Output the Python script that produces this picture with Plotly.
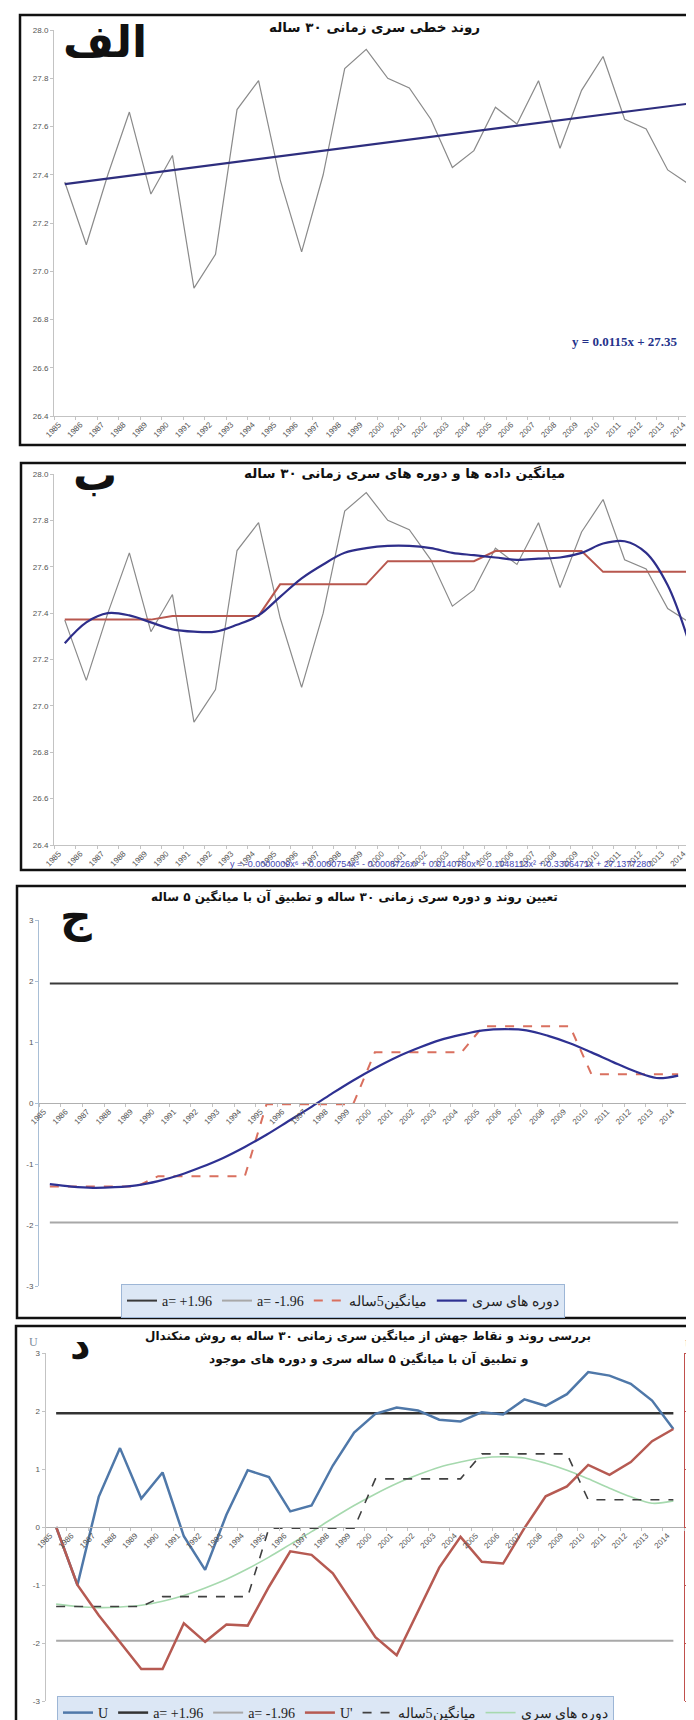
import plotly.graph_objects as go

W, H = 694, 1720

# ---------------- data ----------------
years = list(range(1985, 2015))
year_labels = [str(y) for y in years]

# annual mean temperature (panels الف and ب)
temp_mean = [27.37, 27.11, 27.40, 27.66, 27.32, 27.48, 26.93, 27.07, 27.67, 27.79,
             27.38, 27.08, 27.40, 27.84, 27.92, 27.80, 27.76, 27.63, 27.43, 27.50,
             27.68, 27.61, 27.79, 27.51, 27.75, 27.89, 27.63, 27.59, 27.42, 27.36]

# linear trend y = 0.0115x + 27.35
trend_slope = 0.0115
trend_intercept = 27.35

# 6th-order polynomial trend (panel ب)
poly_trend = [27.27, 27.36, 27.40, 27.39, 27.36, 27.33, 27.32, 27.32, 27.35, 27.39,
              27.47, 27.55, 27.61, 27.66, 27.68, 27.69, 27.69, 27.68, 27.66, 27.65,
              27.64, 27.63, 27.635, 27.64, 27.66, 27.70, 27.71, 27.66, 27.52, 27.27]

# five-year means of temperature (panel ب)
five_year_temp = [27.372, 27.388, 27.524, 27.624, 27.668, 27.578]

# standardized series periods (panels ج and د)
series_periods = [-1.33, -1.37, -1.39, -1.38, -1.35, -1.28, -1.18, -1.05, -0.90, -0.72,
                  -0.52, -0.30, -0.08, 0.15, 0.37, 0.57, 0.75, 0.90, 1.03, 1.12,
                  1.19, 1.21, 1.19, 1.10, 0.98, 0.83, 0.67, 0.52, 0.41, 0.45]

# standardized five-year means (panels ج and د)
five_year_std = [-1.37, -1.20, -0.02, 0.83, 1.26, 0.47]

# Mann-Kendall statistics (panel د)
u_forward = [0.00, -1.00, 0.52, 1.36, 0.49, 0.94, -0.16, -0.74, 0.21, 0.98,
             0.86, 0.27, 0.37, 1.06, 1.63, 1.95, 2.06, 2.01, 1.85, 1.82,
             1.98, 1.94, 2.20, 2.09, 2.29, 2.67, 2.61, 2.47, 2.18, 1.69]
u_backward = [0.00, -1.00, -1.52, -1.98, -2.45, -2.45, -1.66, -1.98, -1.68, -1.70,
              -1.03, -0.42, -0.48, -0.80, -1.35, -1.90, -2.21, -1.46, -0.70, -0.17,
              -0.60, -0.63, -0.02, 0.53, 0.70, 1.07, 0.90, 1.12, 1.48, 1.69]

alpha_upper = 1.96
alpha_lower = -1.96

titles = {
    "a": "روند خطی سری زمانی ۳۰ ساله",
    "b": "میانگین داده ها و دوره های سری زمانی ۳۰ ساله",
    "c": "تعیین روند و دوره سری زمانی ۳۰ ساله و تطبیق آن با میانگین ۵ ساله",
    "d1": "بررسی روند و نقاط جهش از میانگین سری زمانی ۳۰ ساله به روش منکندال",
    "d2": "و تطبیق آن با میانگین ۵ ساله سری و دوره های موجود",
}
panel_letters = ["الف", "ب", "ج", "د"]
lbl_upper = "a= +1.96"
lbl_lower = "a= -1.96"
lbl_mean5 = "میانگین5ساله"
lbl_periods = "دوره های سری"
lbl_u = "U"
lbl_u2 = "U'"
eq_linear = "y = 0.0115x + 27.35"
eq_poly = ("y = -0.0000009x⁶ + 0.0000754x⁵ - 0.0008726x⁴ + 0.0140780x³"
           " - 0.1048113x² + 0.3306471x + 27.1377280")

# derived series
linear_trend = [trend_slope * (i + 1) + trend_intercept for i in range(len(years))]
five_temp_full = [v for v in five_year_temp for _ in range(5)]
five_std_full = [v for v in five_year_std for _ in range(5)]
upper_full = [alpha_upper] * len(years)
lower_full = [alpha_lower] * len(years)

# ---------------- helpers ----------------
def fx(p):
    return p / W

def fy(p):
    return 1 - p / H

def dom_y(top, bottom):
    return [fy(bottom), fy(top)]

SANS = "DejaVu Sans"
TICKF = dict(family="Liberation Sans", size=8, color="#555555")
AXC = "#c3c3c3"

fig = go.Figure()

# ---------- panel الف ----------
fig.add_trace(go.Scatter(x=years, y=temp_mean, mode="lines", xaxis="x", yaxis="y",
                         line=dict(color="#8a8a8a", width=1.2), showlegend=False))
fig.add_trace(go.Scatter(x=years, y=linear_trend, mode="lines", xaxis="x", yaxis="y",
                         line=dict(color="#2e2e7e", width=2.2), showlegend=False))

# ---------- panel ب ----------
fig.add_trace(go.Scatter(x=years, y=temp_mean, mode="lines", xaxis="x2", yaxis="y2",
                         line=dict(color="#8a8a8a", width=1.2), showlegend=False))
fig.add_trace(go.Scatter(x=years, y=five_temp_full, mode="lines", xaxis="x2", yaxis="y2",
                         line=dict(color="#b8574e", width=2), showlegend=False))
fig.add_trace(go.Scatter(x=years, y=poly_trend, mode="lines", xaxis="x2", yaxis="y2",
                         line=dict(color="#2e2e8a", width=2.2, shape="spline", smoothing=1.0),
                         showlegend=False))

# ---------- panel ج ----------
fig.add_trace(go.Scatter(x=years, y=upper_full, mode="lines", xaxis="x3", yaxis="y3",
                         name=lbl_upper, legend="legend",
                         line=dict(color="#3a3a3a", width=2)))
fig.add_trace(go.Scatter(x=years, y=lower_full, mode="lines", xaxis="x3", yaxis="y3",
                         name=lbl_lower, legend="legend",
                         line=dict(color="#a8a8a8", width=2)))
fig.add_trace(go.Scatter(x=years, y=five_std_full, mode="lines", xaxis="x3", yaxis="y3",
                         name=lbl_mean5, legend="legend",
                         line=dict(color="#d9705f", width=2, dash="dash")))
fig.add_trace(go.Scatter(x=years, y=series_periods, mode="lines", xaxis="x3", yaxis="y3",
                         name=lbl_periods, legend="legend",
                         line=dict(color="#2e3192", width=2.2, shape="spline", smoothing=1.0)))

# ---------- panel د ----------
fig.add_trace(go.Scatter(x=years, y=series_periods, mode="lines", xaxis="x4", yaxis="y4",
                         name=lbl_periods, legend="legend2", legendrank=6,
                         line=dict(color="#a6d9ae", width=1.6, shape="spline", smoothing=1.0)))
fig.add_trace(go.Scatter(x=years, y=five_std_full, mode="lines", xaxis="x4", yaxis="y4",
                         name=lbl_mean5, legend="legend2", legendrank=5,
                         line=dict(color="#404040", width=1.6, dash="dash")))
fig.add_trace(go.Scatter(x=years, y=lower_full, mode="lines", xaxis="x4", yaxis="y4",
                         name=lbl_lower, legend="legend2", legendrank=3,
                         line=dict(color="#a8a8a8", width=2)))
fig.add_trace(go.Scatter(x=years, y=upper_full, mode="lines", xaxis="x4", yaxis="y4",
                         name=lbl_upper, legend="legend2", legendrank=2,
                         line=dict(color="#333333", width=2.5)))
fig.add_trace(go.Scatter(x=years, y=u_backward, mode="lines", xaxis="x4", yaxis="y5",
                         name=lbl_u2, legend="legend2", legendrank=4,
                         line=dict(color="#b65a52", width=2.5)))
fig.add_trace(go.Scatter(x=years, y=u_forward, mode="lines", xaxis="x4", yaxis="y4",
                         name=lbl_u, legend="legend2", legendrank=1,
                         line=dict(color="#4f78a9", width=2.5)))

# ---------------- axes ----------------
def xaxis_common(domain, anchor, position=None):
    d = dict(domain=domain, range=[1984.5, 2014.5], tickmode="array",
             tickvals=years, ticktext=year_labels, tickangle=-45, tickfont=TICKF,
             ticklabelshift=-6,
             showline=True, linecolor=AXC, linewidth=1, ticks="", showgrid=False,
             zeroline=False, automargin=False,
             minor=dict(ticks="outside", ticklen=3, tickcolor=AXC, tickmode="linear",
                        tick0=1984.5, dtick=1, showgrid=False))
    if position is None:
        d["anchor"] = anchor
    else:
        d["anchor"] = "free"
        d["position"] = position
    return d

def yaxis_common(domain, rng, vals, fmt, anchor, color=AXC):
    return dict(domain=domain, range=rng, tickmode="array", tickvals=vals,
                ticktext=[fmt.format(v) for v in vals], tickfont=TICKF,
                showline=True, linecolor=color, linewidth=1, ticks="outside",
                ticklen=3, tickcolor=color, showgrid=False, zeroline=False,
                anchor=anchor, automargin=False)

t_vals = [26.4, 26.6, 26.8, 27.0, 27.2, 27.4, 27.6, 27.8, 28.0]
s_vals = [-3, -2, -1, 0, 1, 2, 3]

d1y = dom_y(22, 408)
d2y = dom_y(466, 837)
d3y = dom_y(912, 1278)
d4y = dom_y(1345, 1693)

def zero_pos(dom, rng):
    return dom[0] + (0 - rng[0]) / (rng[1] - rng[0]) * (dom[1] - dom[0])

layout = dict(
    xaxis=xaxis_common([fx(46), fx(692)], "y"),
    yaxis=yaxis_common(d1y, [26.4, 28.0], t_vals, "{:.1f}", "x"),
    xaxis2=xaxis_common([fx(46), fx(692)], "y2"),
    yaxis2=yaxis_common(d2y, [26.4, 28.0], t_vals, "{:.1f}", "x2"),
    xaxis3=xaxis_common([fx(31), fx(681)], "y3", position=zero_pos(d3y, [-3, 3])),
    yaxis3=yaxis_common(d3y, [-3, 3], s_vals, "{:d}", "x3", color="#a9bfd6"),
    xaxis4=xaxis_common([fx(37.5), fx(676)], "y4", position=zero_pos(d4y, [-3, 3])),
    yaxis4=yaxis_common(d4y, [-3, 3], s_vals, "{:d}", "x4"),
)
layout["yaxis5"] = yaxis_common(d4y, [-3, 3], s_vals, "{:d}", "x4", color="#c0504d")
layout["yaxis5"].update(overlaying="y4", side="right", ticklen=3, ticklabelstandoff=-2,
                        tickfont=dict(family="Liberation Sans", size=7, color="#c0504d"))
layout["xaxis3"]["linecolor"] = "#b0b0b0"
layout["xaxis4"]["linecolor"] = "#b0b0b0"

fig.update_layout(**layout)

# ---------------- legends ----------------
fig.update_layout(
    legend=dict(orientation="h", x=fx(113), y=fy(1276), xanchor="left", yanchor="top",
                bgcolor="#dce7f5", bordercolor="#9db6d6", borderwidth=1,
                font=dict(family="Liberation Serif", size=14, color="#222222"),
                itemwidth=30, tracegroupgap=0),
    legend2=dict(orientation="h", x=fx(49), y=fy(1688), xanchor="left", yanchor="top",
                 bgcolor="#dce7f5", bordercolor="#9db6d6", borderwidth=1,
                 font=dict(family="Liberation Serif", size=14, color="#222222"),
                 itemwidth=30, tracegroupgap=0),
)

# ---------------- panel frames ----------------
frames = [(12, 7, 437, 692.5), (13, 455, 862, 692.5), (9, 878, 1310, 692.5),
          (8, 1318, 1760, 760)]
shapes = []
for left, top, bottom, right in frames:
    shapes.append(dict(type="rect", xref="paper", yref="paper",
                       x0=fx(left), x1=fx(right), y0=fy(bottom), y1=fy(top),
                       line=dict(color="#111111", width=2.5), fillcolor="rgba(0,0,0,0)",
                       layer="above"))
fig.update_layout(shapes=shapes)

# ---------------- annotations ----------------
ann = []
def text(xp, yp, s, size, color="#111111", family=SANS, bold=True, xanchor="center"):
    ann.append(dict(x=fx(xp), y=fy(yp), xref="paper", yref="paper", showarrow=False,
                    text=("<b>%s</b>" % s) if bold else s, xanchor=xanchor, yanchor="middle",
                    font=dict(family=family, size=size, color=color)))

text(367, 19, titles["a"], 13.5)
text(396, 465, titles["b"], 13.5)
text(346, 889, titles["c"], 12)
text(360, 1328, titles["d1"], 12)
text(360, 1351, titles["d2"], 12)

text(97, 34, panel_letters[0], 44)
text(87, 466, panel_letters[1], 44)
text(68, 908, panel_letters[2], 44)
text(72, 1337, panel_letters[3], 40)

text(617, 333, eq_linear, 13, color="#24318a", family="Liberation Serif")
text(432, 856, eq_poly, 9, color="#4646b4", family="Liberation Sans", bold=False)

text(25, 1334, lbl_u, 12, color="#7a8a9a", family="Liberation Serif", bold=False)
text(682, 1336, lbl_u2, 12, color="#c0504d", family="Liberation Serif", bold=False)

fig.update_layout(annotations=ann)

fig.update_layout(width=W, height=H, template="none",
                  margin=dict(l=0, r=0, t=0, b=0, autoexpand=False),
                  paper_bgcolor="white", plot_bgcolor="rgba(0,0,0,0)",
                  font=dict(family=SANS))

fig.write_html("out.html")
